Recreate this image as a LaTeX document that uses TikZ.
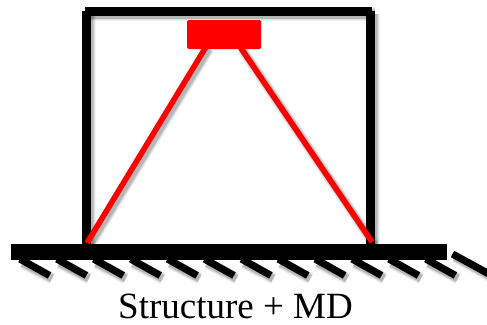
\documentclass[tikz,border=0pt]{standalone}
\usepackage{fontspec}
\setmainfont{Liberation Serif}
\tikzset{
  blk/.style={line width=#1, draw=black, line cap=butt},
  redl/.style={line width=5.6pt, draw=red},
  hatch/.style={line width=7.2pt, draw=black},
}
% soft shadow: draws a path several times, blurred, offset down-right
\newcommand{\softline}[3]{%
  \foreach \extra/\op in {5/0.05,3/0.07,1.5/0.09,0/0.10}{
    \draw[line width=#3+\extra pt, draw=black, opacity=\op] ([shift={(2.5,3)}]#1) -- ([shift={(2.5,3)}]#2);
  }
}
\begin{document}
\begin{tikzpicture}[x=1pt,y=-1pt]
\useasboundingbox (0,0) rectangle (487,324);
\fill[white] (0,0) rectangle (487,324);
\coordinate (fl) at (86,244); \coordinate (fr) at (370,244);
\coordinate (gl) at (10.5,252); \coordinate (gr) at (447,252);
\coordinate (barl) at (85,11); \coordinate (barr) at (372,11);
\coordinate (ll) at (86,11); \coordinate (rr) at (370,11);
\coordinate (al) at (206.5,46); \coordinate (ar) at (239.5,46);
\coordinate (bl) at (87,243); \coordinate (br) at (372,242);
% shadows
\softline{barl}{barr}{9}
\softline{ll}{fl}{9}
\softline{rr}{fr}{9}
\softline{al}{bl}{6}
\softline{ar}{br}{6}
\foreach \i in {0,...,11}{
  \coordinate (p) at ({20+\i*36.9},260);
  \coordinate (q) at ({49.5+\i*36.9},275.5);
  \softline{p}{q}{7}
}
\coordinate (hp) at (452.5,254); \coordinate (hq) at (490,274.5);
\softline{hp}{hq}{7}
% structure
\draw[blk=9pt] (barl) -- (barr);
\draw[blk=9pt] (ll) -- (fl);
\draw[blk=9pt] (rr) -- (fr);
% damper
\draw[redl] (al) -- (bl);
\draw[redl] (ar) -- (br);
\node[name=md, draw=none, fill=red, rounded corners=1.5pt, minimum width=74pt, minimum height=29pt, inner sep=0pt] at (224,34.5) {};
% ground
\draw[blk=16pt] (gl) -- (gr);
\foreach \i in {0,...,11}{
  \draw[hatch] ({20+\i*36.9},259) -- ({49.5+\i*36.9},275.5);
}
\draw[hatch] (hp) -- (hq);
\node[font=\fontsize{37}{37}\selectfont, inner sep=0pt, anchor=base] (lab) at (235.5,318) {Structure + MD};
\end{tikzpicture}
\end{document}
